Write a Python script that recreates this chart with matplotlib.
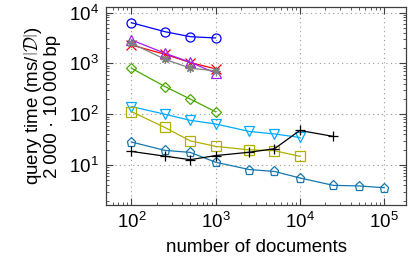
import numpy as np
import matplotlib
matplotlib.use("Agg")
from matplotlib import pyplot as plt
from matplotlib.ticker import LogLocator, NullFormatter

plt.rcParams['font.family'] = ['Liberation Sans', 'DejaVu Sans']
plt.rcParams['mathtext.fontset'] = 'custom'
plt.rcParams['mathtext.rm'] = 'Liberation Sans'
plt.rcParams['mathtext.it'] = 'Liberation Sans:italic'
plt.rcParams['mathtext.bf'] = 'Liberation Sans:bold'

# number of documents for each series
docs_short = [100, 250, 500, 1000]
docs_mid = [100, 250, 500, 1000, 2500, 5000, 10000]
docs_black = [100, 250, 500, 1000, 2500, 5000, 10000, 25000]
docs_long = [100, 250, 500, 1000, 2500, 5000, 10000, 25000, 50000, 100000]

# query times
blue_circle = [6300, 4200, 3350, 3160]
red_cross = [2300, 1510, 1040, 780]
purple_tri = [2890, 1585, 1055, 645]
gray_star = [2490, 1210, 805, 713]
green_diamond = [805, 351, 199, 112]
cyan_tri = [142, 100, 76, 64.5, 46, 41, 35]
olive_square = [113, 55, 30, 23.4, 20, 19.2, 14.9]
black_plus = [18.6, 15, 12.8, 15.4, 17.9, 21, 48, 36.7]
teal_pent = [28.5, 19.5, 17.8, 11.4, 8.2, 7.5, 5.6, 4.0, 3.9, 3.6]

series = [
    (docs_short, blue_circle, '#0000ff', 'o'),
    (docs_short, red_cross, '#ff0000', 'x'),
    (docs_short, purple_tri, '#a020f0', '^'),
    (docs_short, gray_star, '#808080', (8, 2, 0)),
    (docs_short, green_diamond, '#4aa800', 'D'),
    (docs_mid, cyan_tri, '#00aaff', 'v'),
    (docs_mid, olive_square, '#b0b000', 's'),
    (docs_long, teal_pent, '#1677b0', 'p'),
    (docs_black, black_plus, '#000000', '+'),
]

fig = plt.figure(figsize=(4.08, 2.6), dpi=100)
ax = fig.add_axes([0.26, 0.2115, 0.735, 0.7615])

for x, y, c, m in series:
    ms = 5.5 if m in ('D',) else 6.5
    if m == (8, 2, 0):
        ms = 6
    ax.plot(x, y, color=c, marker=m, markersize=ms, markerfacecolor='none',
            markeredgecolor=c, markeredgewidth=0.9, linewidth=0.9)

ax.set_xscale('log')
ax.set_yscale('log')
ax.set_xlim(10 ** 1.70, 10 ** 5.26)
ax.set_ylim(10 ** 0.216, 10 ** 4.108)

ax.xaxis.set_major_locator(LogLocator(base=10, numticks=10))
ax.yaxis.set_major_locator(LogLocator(base=10, numticks=10))
ax.xaxis.set_minor_locator(LogLocator(base=10, subs=np.arange(2, 10), numticks=20))
ax.yaxis.set_minor_locator(LogLocator(base=10, subs=np.arange(2, 10), numticks=20))
ax.xaxis.set_minor_formatter(NullFormatter())
ax.yaxis.set_minor_formatter(NullFormatter())

ax.tick_params(which='both', direction='in', top=True, right=True, color='#404040')
ax.tick_params(which='major', length=5, width=0.8, labelsize=13.5, pad=5)
ax.tick_params(which='minor', length=2.5, width=0.6)
for s in ax.spines.values():
    s.set_linewidth(0.9)
    s.set_color('#404040')

ax.grid(True, which='major', linestyle=(0, (1, 3)), color='#999999', linewidth=0.8)

ax.set_xlabel('number of documents', fontsize=13.5, labelpad=5)
ax.set_ylabel('query time (ms/$\\left|\\mathcal{D}\\right|$)\n2\u2009000 \u00b7 10\u2009000\u2009bp',
              fontsize=13.5, labelpad=6, math_fontfamily='cm', linespacing=1.0)

fig.savefig('out.png', dpi=100)
